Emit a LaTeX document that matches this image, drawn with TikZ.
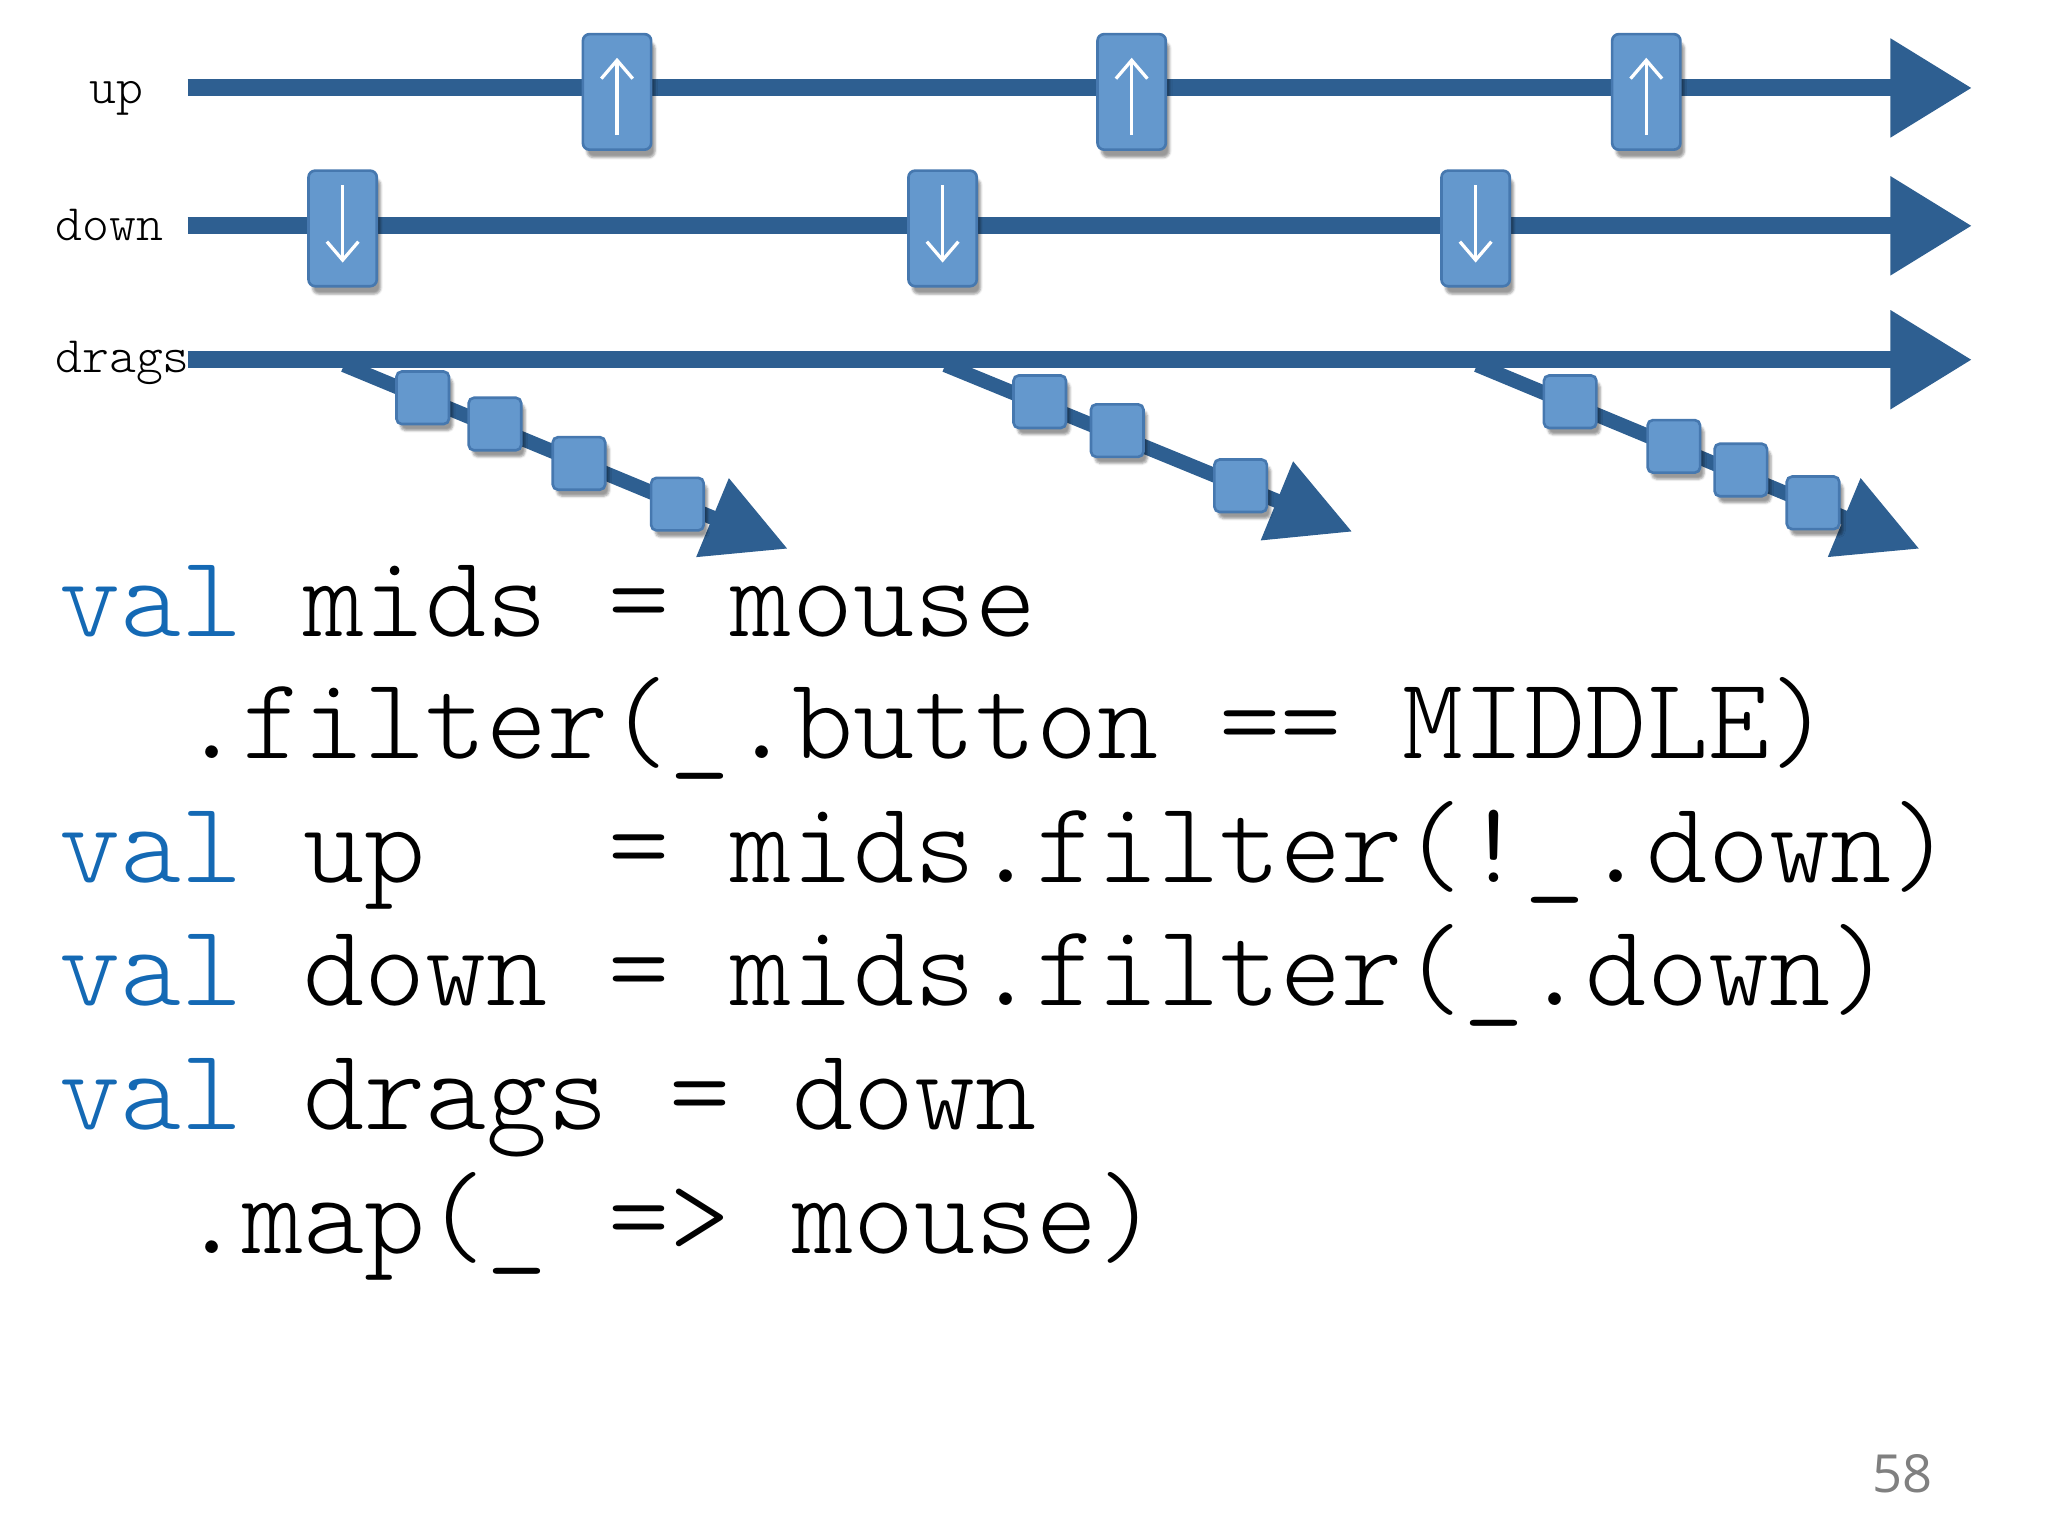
\documentclass[tikz,border=0pt]{standalone}
\usepackage{fontspec}
\setmonofont{Latin Modern Mono Light}
\setsansfont{Open Sans}
\usetikzlibrary{arrows.meta,shadows.blur,calc}
\definecolor{ln}{RGB}{46,95,145}
\definecolor{bx}{RGB}{100,152,205}
\definecolor{bxd}{RGB}{70,120,175}
\definecolor{kw}{RGB}{20,105,180}
\tikzset{
 stream/.style={ln,line width=13pt,-{Triangle[length=62pt,width=72pt]}},
 branch/.style={ln,line width=11pt,-{Triangle[length=62pt,width=62pt]}},
 evbox/.style={draw=bxd,fill=bx,line width=2pt,rounded corners=5pt,minimum width=52pt,minimum height=88pt,inner sep=0pt,blur shadow={shadow xshift=3pt,shadow yshift=-6pt,shadow blur steps=4}},
 glyph/.style={white,line width=2.5pt,-{Straight Barb[length=14pt,width=24pt,line width=2.5pt]}},
 dbox/.style={draw=bxd,fill=bx,line width=2pt,rounded corners=4pt,minimum width=40pt,minimum height=40pt,inner sep=0pt,blur shadow={shadow xshift=3pt,shadow yshift=-5pt,shadow blur steps=4}},
 lbl/.style={font=\ttfamily\fontsize{39}{39}\selectfont,anchor=base west,inner sep=0pt},
 code/.style={font=\ttfamily\fontsize{88.6}{88.6}\selectfont,anchor=base west,inner sep=0pt},
}
\begin{document}
\begin{tikzpicture}[x=1pt,y=-1pt]
\useasboundingbox (0,0) rectangle (1560,1170);
\node[lbl] (lup) at (68,79) {up};
\node[lbl] (ldown) at (42,183) {down};
\node[lbl] (ldrags) at (42,284) {drags};
\coordinate (us) at (143,67); \coordinate (ue) at (1502,67);
\coordinate (ds) at (143,172); \coordinate (de) at (1502,172);
\coordinate (gs) at (143,274); \coordinate (ge) at (1502,274);
\draw[stream] (us) -- (ue);
\draw[stream] (ds) -- (de);
\draw[stream] (gs) -- (ge);
\coordinate (b1s) at (262,278); \coordinate (b1e) at (600,418);
\coordinate (b2s) at (720,278); \coordinate (b2e) at (1030,405);
\coordinate (b3s) at (1125,278); \coordinate (b3e) at (1462,418);
\draw[branch] (b1s) -- (b1e);
\draw[branch] (b2s) -- (b2e);
\draw[branch] (b3s) -- (b3e);
\foreach \n/\x in {u1/470,u2/862,u3/1254}{
  \node[evbox] (\n) at (\x,70) {};
  \draw[glyph] ($(\n.center)+(0,33)$) -- ($(\n.center)+(0,-26)$);
}
\foreach \n/\x in {d1/261,d2/718,d3/1124}{
  \node[evbox] (\n) at (\x,174) {};
  \draw[glyph] ($(\n.center)+(0,-33)$) -- ($(\n.center)+(0,26)$);
}
\node[dbox] (g11) at (322,303) {};
\node[dbox] (g12) at (377,323) {};
\node[dbox] (g13) at (441,353) {};
\node[dbox] (g14) at (516,384) {};
\node[dbox] (g21) at (792,306) {};
\node[dbox] (g22) at (851,328) {};
\node[dbox] (g23) at (945,370) {};
\node[dbox] (g31) at (1196,306) {};
\node[dbox] (g32) at (1275,340) {};
\node[dbox] (g33) at (1326,358) {};
\node[dbox] (g34) at (1381,383) {};
\node[code] (c1) at (45,485) {\textcolor{kw}{val} mids = mouse};
\node[code] (c2) at (45,578) {\ \ .filter(\_.button == MIDDLE)};
\node[code] (c3) at (45,672) {\textcolor{kw}{val} up\ \ \ = mids.filter(!\_.down)};
\node[code] (c4) at (45,766) {\textcolor{kw}{val} down = mids.filter(\_.down)};
\node[code] (c5) at (45,860) {\textcolor{kw}{val} drags = down};
\node[code] (c6) at (45,955) {\ \ .map(\_ => mouse)};
\node[font=\sffamily\fontsize{40}{40}\selectfont,text=gray,anchor=base east,inner sep=0pt] (pg) at (1472,1137) {58};
\end{tikzpicture}
\end{document}
